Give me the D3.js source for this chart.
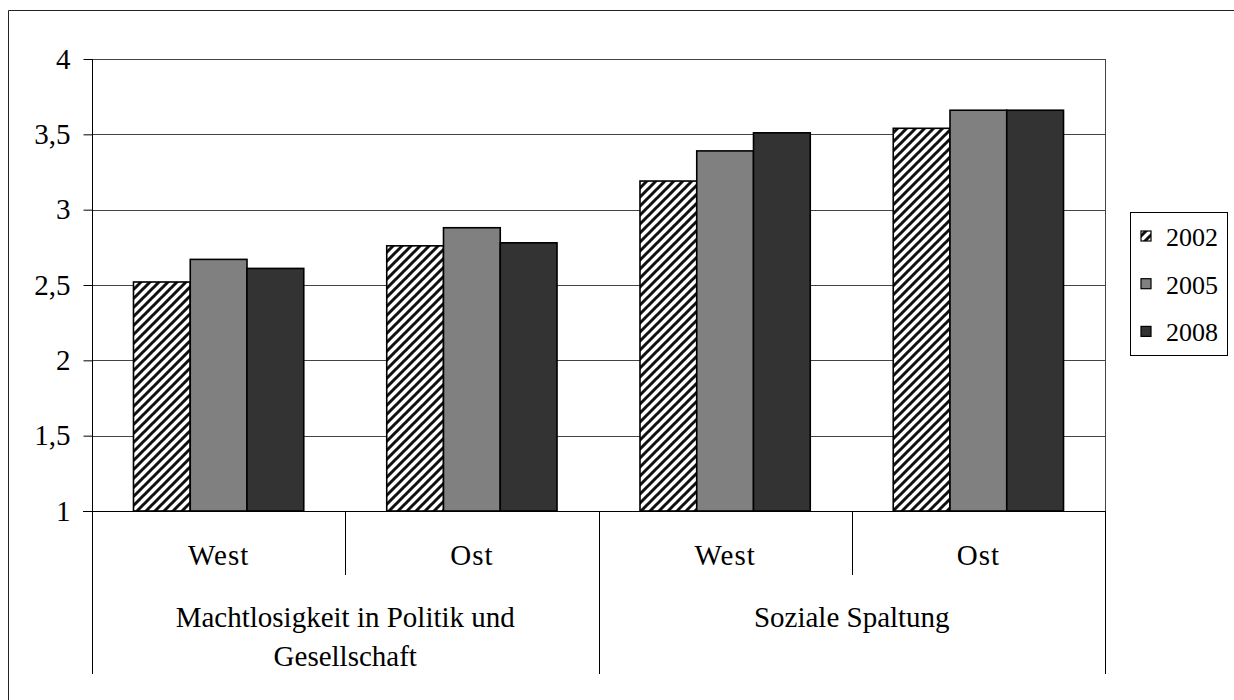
<!DOCTYPE html>
<html>
<head>
<meta charset="utf-8">
<script src="https://cdn.jsdelivr.net/npm/d3@7"></script>
<style>
  body { margin: 0; background: #fff; overflow: hidden; }
  svg { display: block; }
  svg text { font-family: "Liberation Serif", "DejaVu Serif", serif; fill: #000; }
</style>
</head>
<body>
<div class="render"></div>
<script>
'use strict';

// categories
var groups = ['Machtlosigkeit in Politik und Gesellschaft', 'Soziale Spaltung'];
var regions = ['West', 'Ost', 'West', 'Ost'];
var years = ['2002', '2005', '2008'];
// series values, one per region cell
var v2002 = [2.52, 2.76, 3.19, 3.54];
var v2005 = [2.67, 2.88, 3.39, 3.66];
var v2008 = [2.61, 2.78, 3.51, 3.66];
var yTicks = [1, 1.5, 2, 2.5, 3, 3.5, 4];

var series = [v2002, v2005, v2008];
var fills = ['url(#hatch)', '#808080', '#333333'];

function draw() {
   var w = 1234, h = 700;
   var left = 92, right = 1105, top = 59, bottom = 511;

   var svg = d3.select('.render').append('svg').attr('width', w).attr('height', h);

   var defs = svg.append('defs');
   var pat = defs.append('pattern').attr('id', 'hatch').attr('patternUnits', 'userSpaceOnUse')
      .attr('width', 9).attr('height', 9);
   pat.append('rect').attr('width', 9).attr('height', 9).attr('fill', '#fff');
   pat.append('path').attr('d', 'M-2,2 L2,-2 M0,9 L9,0 M7,11 L11,7')
      .attr('stroke', '#111').attr('stroke-width', 3);

   // outer chart frame: only its top and left edges fall inside the image
   svg.append('line').attr('x1', 8.5).attr('x2', w).attr('y1', 10.5).attr('y2', 10.5).attr('stroke', '#222');
   svg.append('line').attr('x1', 8.5).attr('x2', 8.5).attr('y1', 10.5).attr('y2', h).attr('stroke', '#222');

   var cells = d3.range(regions.length);
   var x0 = d3.scaleBand().domain(cells).range([left, right]).padding(0);
   var x1 = d3.scaleBand().domain(years).range([0, x0.bandwidth()]).paddingInner(0).paddingOuter(0.731);
   var y = d3.scaleLinear().domain([1, 4]).range([bottom, top]);

   // gridlines
   svg.selectAll('line.grid').data(yTicks.filter(function (d) { return d > 1; })).enter().append('line')
      .attr('class', 'grid')
      .attr('x1', left).attr('x2', right)
      .attr('y1', function (d) { return Math.round(y(d)) + 0.5; })
      .attr('y2', function (d) { return Math.round(y(d)) + 0.5; })
      .attr('stroke', '#444').attr('stroke-width', 1);

   // right side of plot area
   svg.append('line').attr('x1', right + 0.5).attr('x2', right + 0.5).attr('y1', top).attr('y2', bottom)
      .attr('stroke', '#444');

   // bars
   years.forEach(function (yr, k) {
      svg.selectAll('rect.bar' + yr).data(series[k]).enter().append('rect')
         .attr('class', 'bar' + yr)
         .attr('x', function (d, i) { return x0(i) + x1(yr); })
         .attr('y', function (d) { return y(d); })
         .attr('width', x1.bandwidth())
         .attr('height', function (d) { return y(1) - y(d); })
         .attr('fill', fills[k])
         .attr('stroke', '#000').attr('stroke-width', 1.6);
   });

   // y axis
   var yAxis = d3.axisLeft(y).tickValues(yTicks).tickSize(9).tickPadding(13)
      .tickFormat(function (d) { return String(d).replace('.', ','); });
   var ga = svg.append('g').attr('transform', 'translate(' + (left + 0.5) + ',0)').call(yAxis);
   ga.select('.domain').remove();
   ga.selectAll('.tick line').attr('stroke', '#000');
   ga.selectAll('text').style('font-size', '29px').style('font-family', '"Liberation Serif", serif');
   ga.append('line').attr('x1', 0).attr('x2', 0).attr('y1', top).attr('y2', 674).attr('stroke', '#000');

   // category axis
   svg.append('line').attr('x1', left - 9).attr('x2', right).attr('y1', bottom + 0.5).attr('y2', bottom + 0.5)
      .attr('stroke', '#000').attr('stroke-width', 1.2);
   var bounds = d3.range(regions.length + 1);
   svg.selectAll('line.cdiv').data(bounds).enter().append('line')
      .attr('class', 'cdiv')
      .attr('x1', function (d) { return Math.round(left + d * x0.step()) + 0.5; })
      .attr('x2', function (d) { return Math.round(left + d * x0.step()) + 0.5; })
      .attr('y1', bottom)
      .attr('y2', function (d) { return d % 2 === 0 ? 674 : 575; })
      .attr('stroke', '#000');

   svg.selectAll('text.region').data(regions).enter().append('text')
      .attr('class', 'region')
      .attr('x', function (d, i) { return x0(i) + x0.bandwidth() / 2; })
      .attr('y', 565)
      .attr('text-anchor', 'middle')
      .style('font-size', '29px').style('letter-spacing', '1px')
      .text(function (d) { return d; });

   var gl = svg.selectAll('text.group').data(groups).enter().append('text')
      .attr('class', 'group')
      .attr('text-anchor', 'middle')
      .style('font-size', '29px')
      .attr('transform', function (d, i) {
         return 'translate(' + (left + (i * 2 + 1) * x0.step()) + ',627)';
      });
   gl.each(function (d) {
      var t = d3.select(this);
      var words = d.split(' ');
      var lines = [], cur = [];
      words.forEach(function (wd) {
         var test = cur.concat([wd]).join(' ');
         t.text(test);
         if (this.getComputedTextLength() > 440 && cur.length) {
            lines.push(cur.join(' '));
            cur = [wd];
         } else {
            cur.push(wd);
         }
      }, this);
      lines.push(cur.join(' '));
      t.text(null);
      lines.forEach(function (ln, j) {
         t.append('tspan').attr('x', 0).attr('y', j * 39).text(ln);
      });
   });

   // legend
   var lg = svg.append('g');
   lg.append('rect').attr('x', 1130.5).attr('y', 212.5).attr('width', 97).attr('height', 143)
      .attr('fill', '#fff').attr('stroke', '#000');
   var items = lg.selectAll('g.item').data(years).enter().append('g')
      .attr('class', 'item')
      .attr('transform', function (d, i) { return 'translate(1141,' + (236 + i * 47.7) + ')'; });
   items.append('rect').attr('x', 0).attr('y', -5).attr('width', 10).attr('height', 10)
      .attr('fill', function (d, i) { return fills[i]; })
      .attr('stroke', '#000').attr('stroke-width', 1.2);
   items.append('text').attr('x', 25).attr('y', 10).style('font-size', '26px')
      .text(function (d) { return d; });
}

draw();
</script>
</body>
</html>
